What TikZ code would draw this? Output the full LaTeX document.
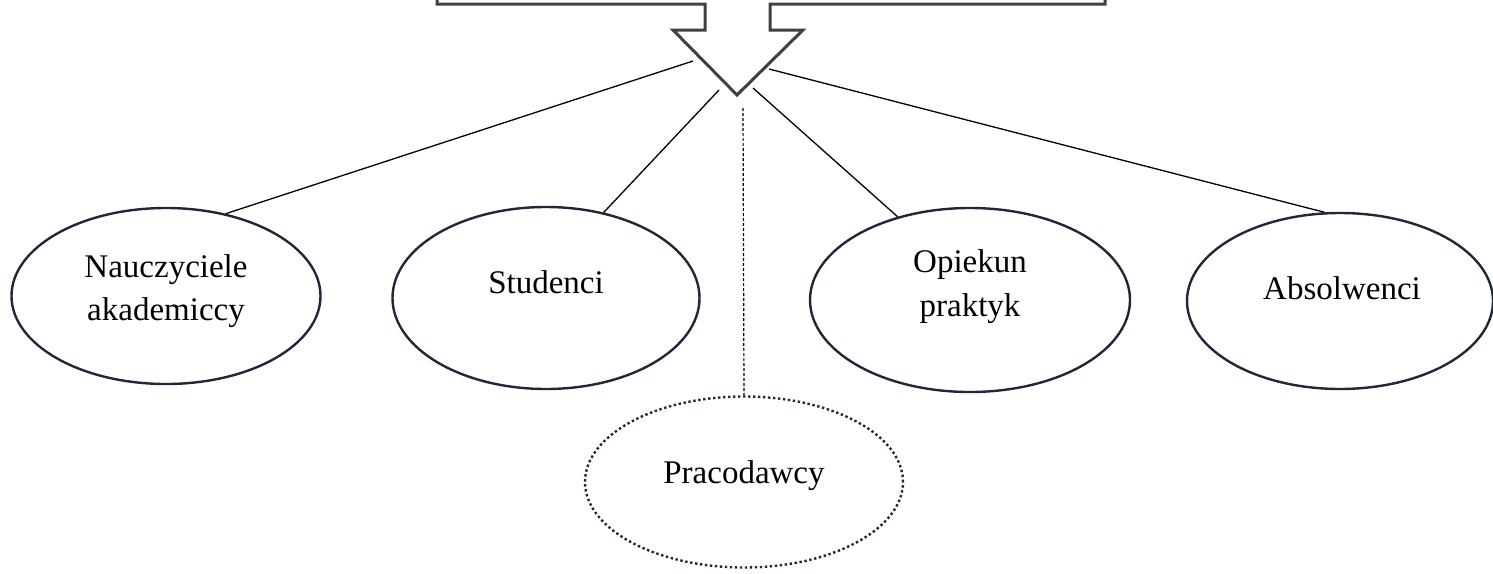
\documentclass[tikz,border=0pt]{standalone}
\usepackage{fontspec}
\setmainfont{Liberation Serif}
\usetikzlibrary{shapes.geometric}
\definecolor{ellc}{HTML}{1E2838}
\definecolor{arrc}{HTML}{404040}
\begin{document}
\begin{tikzpicture}[x=1pt,y=-1pt,
  oval/.style={ellipse, draw=ellc, line width=2.4pt, inner sep=0pt},
  dottedoval/.style={ellipse, draw=ellc, line width=2.4pt, inner sep=0pt, dash pattern=on 2.4pt off 2.6pt},
  lbl/.style={font=\fontsize{33}{40}\selectfont, anchor=base, inner sep=0pt},
  link/.style={draw=black, line width=1.3pt},
  dlink/.style={draw=black, line width=1.2pt, dash pattern=on 3pt off 2pt},
  bigarrow/.style={draw=arrc, line width=3pt, line join=miter}
]
\useasboundingbox (0,0) rectangle (1493,573);

% top block arrow
\draw[bigarrow] (437,-5) -- (437,4) -- (705,4) -- (705,30) -- (673,30) -- (737,95)
  -- (803,30) -- (770,30) -- (770,4) -- (1105,4) -- (1105,-5);

% ellipses
\node[oval, minimum width=309pt, minimum height=176pt] (nau) at (166,296) {};
\node[oval, minimum width=307pt, minimum height=182pt] (stu) at (546,298) {};
\node[oval, minimum width=320pt, minimum height=184pt] (opi) at (970,300) {};
\node[oval, minimum width=306pt, minimum height=176pt] (abs) at (1340,301) {};
\node[dottedoval, minimum width=318pt, minimum height=171pt] (pra) at (744,482) {};

% labels
\node[lbl] (t1) at (166,277) {Nauczyciele};
\node[lbl] (t2) at (166,320) {akademiccy};
\node[lbl] (t3) at (546,293) {Studenci};
\node[lbl] (t4) at (970,272) {Opiekun};
\node[lbl] (t5) at (970,316) {praktyk};
\node[lbl] (t6) at (1342,299) {Absolwenci};
\node[lbl] (t7) at (744,483) {Pracodawcy};

% connector start points near the arrow
\coordinate (c1) at (693,61);
\coordinate (c2) at (719,90);
\coordinate (c3) at (753,88);
\coordinate (c4) at (769,69);
\coordinate (c5) at (743,108);

\draw[link] (c1) -- (nau.54);
\draw[link] (c2) -- (stu.56);
\draw[link] (c3) -- (opi.131);
\draw[link] (c4) -- (abs.100);
\draw[dlink] (c5) -- (pra.north);
\end{tikzpicture}
\end{document}
